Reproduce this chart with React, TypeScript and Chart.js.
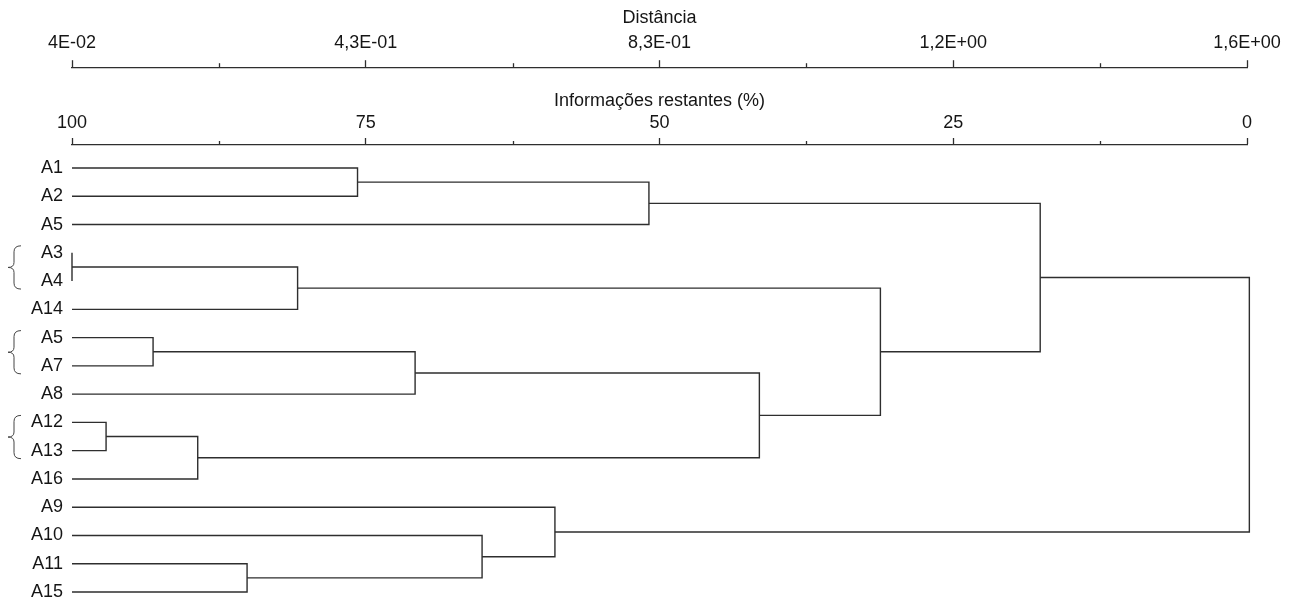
import React, { useEffect, useRef } from "react";
import { Chart, registerables } from "chart.js";

Chart.register(...registerables);

// ---- data ----
const leafLabels = ["A1", "A2", "A5", "A3", "A4", "A14", "A5", "A7", "A8", "A12", "A13", "A16", "A9", "A10", "A11", "A15"];
// merges: node index of left child, right child (leaves 0..15, merge k creates node 16+k), and height (% information remaining)
const mergeLeft = [3, 9, 6, 17, 14, 16, 0, 18, 13, 12, 22, 23, 21, 26, 29];
const mergeRight = [4, 10, 7, 11, 15, 5, 1, 8, 20, 24, 2, 19, 27, 28, 25];
const mergeHeight = [100, 97.1, 93.1, 89.3, 85.1, 80.8, 75.7, 70.8, 65.1, 58.9, 50.9, 41.5, 31.2, 17.6, -0.2];

const pctTickValues = [100, 75, 50, 25, 0];
const pctTickLabels = ["100", "75", "50", "25", "0"];
const distTickLabels = ["4E-02", "4,3E-01", "8,3E-01", "1,2E+00", "1,6E+00"];
const minorTickValues = [87.5, 62.5, 37.5, 12.5];
const braceGroups = [[3, 4], [6, 7], [9, 10]];

const LINE = "#2e2e2e";
const TEXT = "#151515";
const FONT = "'Liberation Sans', Arial, sans-serif";

function buildDatasets() {
  const nodeY: number[] = leafLabels.map((_, i) => i);
  const nodeH: number[] = leafLabels.map(() => 100);
  const ds: any[] = [];
  mergeLeft.forEach((l, k) => {
    const r = mergeRight[k];
    const h = mergeHeight[k];
    ds.push({
      data: [
        { x: nodeH[l], y: nodeY[l] },
        { x: h, y: nodeY[l] },
        { x: h, y: nodeY[r] },
        { x: nodeH[r], y: nodeY[r] },
      ],
      borderColor: LINE,
      borderWidth: 1.4,
      pointRadius: 0,
      tension: 0,
      fill: false,
      clip: false,
    });
    nodeY.push((nodeY[l] + nodeY[r]) / 2);
    nodeH.push(h);
  });
  return ds;
}

const extrasPlugin = {
  id: "extras",
  afterDraw(chart: any) {
    const ctx = chart.ctx;
    ctx.save();
    ctx.strokeStyle = LINE;
    ctx.lineWidth = 1.3;
    ["x", "xd"].forEach((id) => {
      const s = chart.scales[id];
      minorTickValues.forEach((v) => {
        const px = Math.round(s.getPixelForValue(v)) + 0.5;
        ctx.beginPath();
        ctx.moveTo(px, s.bottom);
        ctx.lineTo(px, s.bottom - 4);
        ctx.stroke();
      });
    });
    const ys = chart.scales.y;
    ctx.strokeStyle = "#444";
    ctx.lineWidth = 1;
    braceGroups.forEach(([a, b]) => {
      const top = ys.getPixelForValue(a) - 7;
      const bot = ys.getPixelForValue(b) + 8;
      const mid = (top + bot) / 2;
      const xr = 21, xm = 14, xl = 8;
      ctx.beginPath();
      ctx.moveTo(xr, top);
      ctx.quadraticCurveTo(xm, top, xm, top + 6);
      ctx.lineTo(xm, mid - 5);
      ctx.quadraticCurveTo(xm, mid, xl, mid);
      ctx.quadraticCurveTo(xm, mid, xm, mid + 5);
      ctx.lineTo(xm, bot - 6);
      ctx.quadraticCurveTo(xm, bot, xr, bot);
      ctx.stroke();
    });
    ctx.restore();
  },
};

export default function App() {
  const ref = useRef<HTMLCanvasElement | null>(null);
  useEffect(() => {
    document.body.style.margin = "0";
    if (!ref.current) return;
    Chart.defaults.font.family = FONT;
    const xAxisCommon = (labels: string[]) => ({
      type: "linear",
      position: "top",
      min: 0,
      max: 100,
      reverse: true,
      grid: {
        display: true,
        drawOnChartArea: false,
        drawTicks: true,
        tickLength: 7,
        tickColor: LINE,
        tickWidth: 1.3,
        color: LINE,
      },
      border: { display: true, color: LINE, width: 1.3 },
      afterBuildTicks: (s: any) => {
        s.ticks = pctTickValues.map((v) => ({ value: v }));
      },
      ticks: {
        autoSkip: false,
        maxRotation: 0,
        color: TEXT,
        font: { size: 18 },
        callback: (v: any) => {
          const i = pctTickValues.indexOf(Number(v));
          return i >= 0 ? labels[i] : "";
        },
      },
    });
    const chart = new Chart(ref.current, {
      type: "line",
      data: { datasets: buildDatasets() },
      plugins: [extrasPlugin],
      options: {
        animation: false,
        responsive: false,
        layout: { padding: { left: 0, right: 47, top: 0, bottom: 0 } },
        plugins: { legend: { display: false }, tooltip: { enabled: false } },
        scales: {
          xd: {
            ...xAxisCommon(distTickLabels),
            weight: 10,
            ticks: { ...xAxisCommon(distTickLabels).ticks, padding: 6 },
            title: { display: true, text: "Distância", color: TEXT, font: { size: 18 }, padding: { top: 7, bottom: -2 } },
          },
          x: {
            ...xAxisCommon(pctTickLabels),
            weight: 0,
            ticks: { ...xAxisCommon(pctTickLabels).ticks, padding: 3.8 },
            title: { display: true, text: "Informações restantes (%)", color: TEXT, font: { size: 18 }, padding: { top: 23, bottom: -3 } },
          },
          y: {
            type: "linear",
            reverse: true,
            min: -0.8136,
            max: 15.318,
            grid: { display: false, drawTicks: false },
            border: { display: false },
            afterBuildTicks: (s: any) => {
              s.ticks = leafLabels.map((_, i) => ({ value: i }));
            },
            afterFit: (s: any) => {
              s.width = 72;
              s.paddingTop = 0;
              s.paddingBottom = 0;
            },
            ticks: {
              autoSkip: false,
              color: TEXT,
              padding: 9,
              font: { size: 18 },
              callback: (v: any) => leafLabels[Number(v)] ?? "",
            },
          },
        } as any,
      },
    } as any);
    return () => chart.destroy();
  }, []);
  return (
    <div style={{ position: "absolute", left: 0, top: 0, width: 1294, height: 601, background: "#fff" }}>
      <canvas ref={ref} width={1294} height={601} />
    </div>
  );
}
